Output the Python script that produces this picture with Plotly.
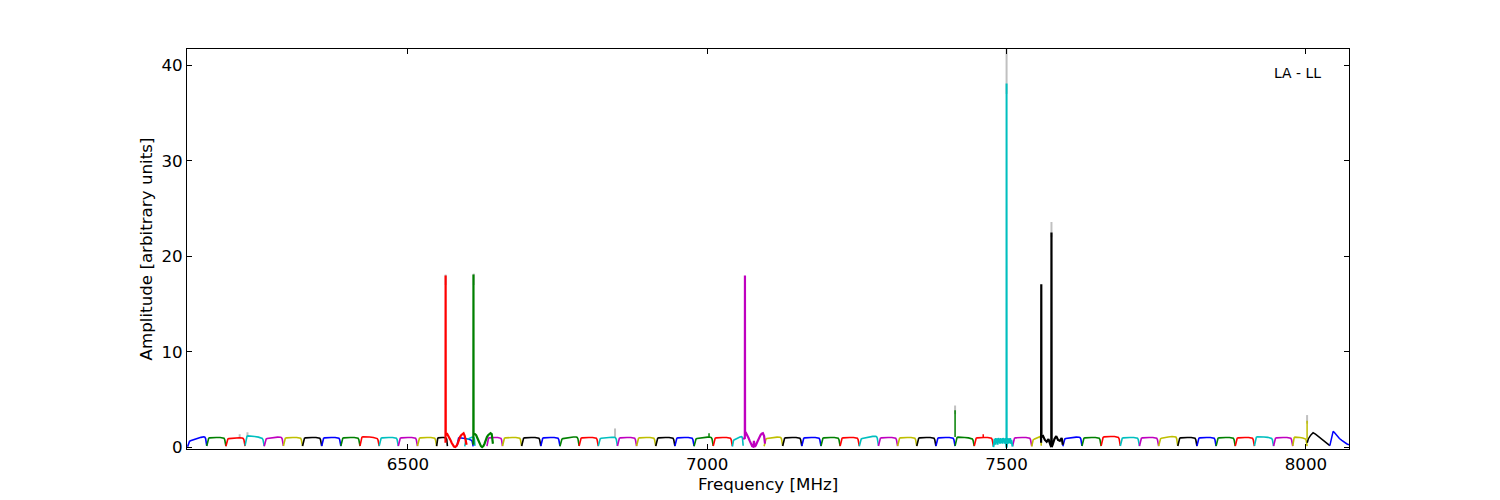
import plotly.graph_objects as go

# ---------------- data ----------------
COLORS = ["#0000ff", "#008000", "#ff0000", "#00bfbf", "#bf00bf", "#bfbf00", "#000000"]

# shared sub-band bandpass profile (relative position, relative level)
profile_pos = [0.0, 0.025, 0.06, 0.1, 0.15, 0.3, 0.5, 0.7, 0.85, 0.9, 0.94, 0.975, 1.0]
profile_val = [0.15, 0.45, 0.78, 0.92, 0.97, 1.0, 1.0, 1.0, 0.97, 0.92, 0.78, 0.45, 0.15]

# regular sub-bands
band_start = [6132, 6164, 6196, 6228, 6260, 6292, 6324, 6356, 6388, 6420, 6452, 6484, 6516, 6548,
              6582, 6595, 6632, 6658, 6690, 6722, 6754, 6786, 6818, 6850, 6882, 6914, 6946, 6978,
              7010, 7042, 7095, 7126, 7158, 7190, 7222, 7254, 7286, 7318, 7350, 7382, 7414, 7446,
              7510, 7542, 7594, 7626, 7658, 7690, 7722, 7754, 7786, 7818, 7850, 7882, 7914, 7946,
              7978]
band_end = [6164, 6196, 6228, 6260, 6292, 6324, 6356, 6388, 6420, 6452, 6484, 6516, 6548, 6566,
            6609, 6612, 6658, 6690, 6722, 6754, 6786, 6818, 6850, 6882, 6914, 6946, 6978, 7010,
            7042, 7060, 7126, 7158, 7190, 7222, 7254, 7286, 7318, 7350, 7382, 7414, 7446, 7478,
            7542, 7558, 7626, 7658, 7690, 7722, 7754, 7786, 7818, 7850, 7882, 7914, 7946, 7978,
            8002]
band_color = [0, 1, 2, 3, 4, 5, 6, 0, 1, 2, 3, 4, 5, 6,
              0, 3, 4, 5, 6, 0, 1, 2, 3, 4, 5, 6, 0, 1,
              2, 3, 5, 6, 0, 1, 2, 3, 4, 5, 6, 0, 1, 2,
              4, 5, 0, 1, 2, 3, 4, 5, 6, 0, 1, 2, 3, 4,
              5]
band_gain = [0.95, 1.05, 1.0, 1.15, 1.05, 1.05, 1.05, 1.05, 1.05, 1.1, 1.05, 1.05, 1.05, 1.05,
             0.95, 1.0, 1.05, 1.05, 1.05, 1.05, 1.05, 1.05, 1.05, 1.05, 1.05, 1.05, 1.05, 1.05,
             1.05, 1.0, 1.05, 1.05, 1.05, 1.05, 1.05, 1.1, 1.05, 1.05, 1.05, 1.05, 1.05, 1.05,
             1.05, 1.0, 1.05, 1.05, 1.15, 1.05, 1.05, 1.1, 1.05, 1.05, 1.05, 1.05, 1.1, 1.05,
             1.05]
band_tilt = [0.6, 0.0, 0.1, -0.3, 0.2, 0.0, 0.0, 0.0, 0.0, -0.2, 0.0, 0.0, 0.0, 0.0,
             -0.3, 0.4, 0.0, 0.0, 0.0, 0.0, 0.25, 0.0, 0.15, 0.0, 0.0, 0.0, 0.0, 0.2,
             0.0, 0.5, 0.2, 0.0, 0.0, 0.0, 0.0, 0.35, 0.0, 0.0, 0.0, 0.0, -0.2, 0.0,
             0.0, 0.5, 0.2, 0.0, 0.0, 0.0, 0.0, 0.25, 0.0, 0.0, 0.0, 0.0, -0.15, 0.0,
             -0.2]

# irregular sub-bands (explicit readings)
red_6563_f = [6562.8, 6563.0, 6563.2, 6565, 6567, 6569, 6571, 6573, 6575, 6577, 6579, 6581, 6583,
              6585, 6587, 6589, 6591, 6593, 6595, 6598]
red_6563_v = [0.5, 18.0, 1.3, 1.5, 1.3, 1.1, 0.8, 0.5, 0.3, 0.1, 0.05, 0.15, 0.4, 0.8, 1.1, 1.3,
              1.45, 1.5, 1.2, 0.3]
green_6610_f = [6609.3, 6609.5, 6609.7, 6612, 6614, 6616, 6618, 6620, 6622, 6624, 6626, 6628, 6630,
                6632, 6634, 6636, 6638, 6640, 6642]
green_6610_v = [0.3, 18.1, 1.4, 1.4, 1.3, 1.0, 0.7, 0.4, 0.15, 0.05, 0.15, 0.4, 0.8, 1.1, 1.3,
                1.45, 1.5, 1.4, 0.4]
mag_7063_f = [7060, 7062.8, 7063.0, 7063.2, 7065, 7067, 7069, 7071, 7073, 7075, 7077, 7078, 7079,
              7081, 7083, 7085, 7087, 7089, 7091, 7093, 7095, 7096.5]
mag_7063_v = [0.9, 1.0, 18.0, 1.4, 1.5, 1.3, 1.0, 0.7, 0.4, 0.15, 0.1, 0.7, 0.1, 0.2, 0.5, 0.8,
              1.1, 1.3, 1.45, 1.5, 1.2, 0.4]
cyan_7500_f = [7478, 7479, 7480, 7481, 7482, 7483, 7484, 7485, 7486, 7487, 7488, 7489, 7490, 7491,
               7492, 7493, 7494, 7495, 7496, 7497, 7498, 7499, 7499.8, 7500, 7500.2, 7501, 7502,
               7503, 7504, 7505, 7506, 7507, 7508, 7509, 7510]
cyan_7500_v = [0.05, 0.6, 0.9, 0.3, 1.0, 0.5, 0.9, 0.3, 1.0, 0.6, 0.9, 0.4, 1.0, 0.5, 0.9, 0.4,
               1.0, 0.6, 0.9, 0.4, 1.0, 0.5, 0.0, 38.1, 0.0, 0.6, 1.0, 0.4, 0.9, 0.5, 1.0, 0.4,
               0.8, 0.3, 0.1]
black_7575_f = [7557.7, 7558.0, 7558.3, 7561, 7564, 7567, 7570, 7573, 7574.7, 7575.0, 7575.3, 7577,
                7580, 7583, 7586, 7589, 7592, 7594]
black_7575_v = [0.5, 17.1, 1.1, 1.2, 0.8, 0.6, 0.9, 0.3, 0.05, 22.5, 0.05, 0.3, 0.9, 1.2, 0.8,
                0.7, 1.0, 0.3]
black_end_f = [8002.3, 8004, 8008, 8012, 8016, 8020, 8025, 8030, 8035, 8040]
black_end_v = [0.5, 0.9, 1.3, 1.55, 1.4, 1.2, 0.95, 0.7, 0.45, 0.2]
blue_end_f = [8040, 8042, 8044, 8045.5, 8048, 8052, 8056, 8060, 8064, 8068, 8072]
blue_end_v = [0.2, 0.8, 1.4, 1.7, 1.55, 1.2, 0.95, 0.75, 0.55, 0.4, 0.3]

special_f = [red_6563_f, green_6610_f, mag_7063_f, cyan_7500_f, black_7575_f, black_end_f, blue_end_f]
special_v = [red_6563_v, green_6610_v, mag_7063_v, cyan_7500_v, black_7575_v, black_end_v, blue_end_v]
special_color = [2, 1, 4, 3, 6, 6, 0]
special_width = [2.2, 2.2, 2.2, 2.0, 2.2, 1.5, 1.5]

# narrow spikes inside regular bands (frequency, base, peak, colour)
spike_f = [7003, 7414, 7461, 8002]
spike_base = [1.0, 1.1, 1.0, 0.9]
spike_peak = [1.5, 3.9, 1.4, 2.8]
spike_color = [1, 1, 2, 5]

# grey (unflagged) data visible only above the coloured curves
grey_f = [6219, 6232, 6563, 6610, 6846, 7414, 7500, 7575, 8002]
grey_base = [1.0, 1.1, 17.0, 17.0, 1.0, 3.5, 37.0, 22.0, 2.5]
grey_peak = [1.4, 1.6, 18.1, 18.2, 2.0, 4.4, 45.0, 23.6, 3.4]

X_RANGE = [6131, 8072]
Y_RANGE = [-0.15, 41.7]
X_TICKS = [6500, 7000, 7500, 8000]
Y_TICKS = [0, 10, 20, 30, 40]

# ---------------- figure ----------------
fig = go.Figure()

for f, b, p in zip(grey_f, grey_base, grey_peak):
    fig.add_trace(go.Scatter(x=[f, f], y=[b, p], mode="lines",
                             line=dict(color="#c0c0c0", width=2.0), hoverinfo="skip"))

for s, e, c, g, t in zip(band_start, band_end, band_color, band_gain, band_tilt):
    xs = [s + (e - s) * p for p in profile_pos]
    ys = [v * (g + t * (p - 0.5)) for p, v in zip(profile_pos, profile_val)]
    fig.add_trace(go.Scatter(x=xs, y=ys, mode="lines",
                             line=dict(color=COLORS[c], width=1.6), hoverinfo="skip"))

for f, v, c, w in zip(special_f, special_v, special_color, special_width):
    fig.add_trace(go.Scatter(x=f, y=v, mode="lines",
                             line=dict(color=COLORS[c], width=w), hoverinfo="skip"))

for f, b, p, c in zip(spike_f, spike_base, spike_peak, spike_color):
    fig.add_trace(go.Scatter(x=[f, f], y=[b, p], mode="lines",
                             line=dict(color=COLORS[c], width=1.5), hoverinfo="skip"))

FONT = "DejaVu Sans"
axis_common = dict(showline=True, linecolor="black", linewidth=1, mirror="ticks",
                   ticks="inside", ticklen=5, tickwidth=1, tickcolor="black",
                   showgrid=False, zeroline=False,
                   tickfont=dict(family=FONT, size=16.7, color="black"))

fig.update_layout(
    width=1500, height=500,
    margin=dict(l=179, r=159, t=41, b=59, autoexpand=False),
    paper_bgcolor="white", plot_bgcolor="white",
    showlegend=False,
    xaxis=dict(range=X_RANGE, tickvals=X_TICKS, ticktext=[str(v) for v in X_TICKS],
               automargin=False,
               **axis_common),
    yaxis=dict(range=Y_RANGE, tickvals=Y_TICKS, ticktext=[str(v) for v in Y_TICKS],
               title=dict(text="Amplitude [arbitrary units]",
                          font=dict(family=FONT, size=16.7, color="black"), standoff=4),
               automargin=False,
               **axis_common),
    annotations=[
        dict(text="LA - LL", xref="paper", yref="paper", x=0.9776, y=0.965,
             xanchor="right", yanchor="top", showarrow=False,
             font=dict(family=FONT, size=13.9, color="black")),
        dict(text="Frequency [MHz]", xref="paper", yref="paper", x=0.5, y=-0.087,
             xanchor="center", yanchor="middle", showarrow=False,
             font=dict(family=FONT, size=16.7, color="black")),
    ],
)

fig.write_html("out.html")
